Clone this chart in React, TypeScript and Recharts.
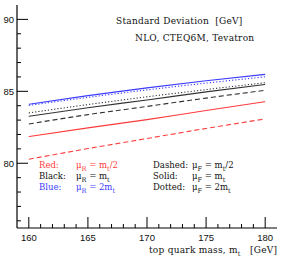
import { LineChart, Line, XAxis, YAxis } from "recharts";

// top quark mass (GeV)
const masses = [160, 165, 170, 175, 180];

// standard deviation [GeV] for each scale choice
const blueSolid = [84.1, 84.7, 85.24, 85.73, 86.18];
const blueDotted = [84.02, 84.58, 85.1, 85.57, 86.01];
const blackDotted = [83.5, 84.08, 84.62, 85.12, 85.6];
const blackSolid = [83.26, 83.86, 84.4, 84.96, 85.48];
const blackDashed = [82.73, 83.38, 83.95, 84.53, 85.07];
const redSolid = [81.85, 82.46, 83.03, 83.67, 84.28];
const redDashed = [80.28, 81.02, 81.72, 82.42, 83.08];

const xTicks = [
  160, 161, 162, 163, 164, 165, 166, 167, 168, 169, 170,
  171, 172, 173, 174, 175, 176, 177, 178, 179, 180,
];
const yTicks = [76, 77, 78, 79, 80, 81, 82, 83, 84, 85, 86, 87, 88, 89, 90];

const RED = "#ff3b3b";
const BLUE = "#3b3bff";
const BLACK = "#333";

const data = masses.map((m, i) => ({
  m,
  blueSolid: blueSolid[i],
  blueDotted: blueDotted[i],
  blackDotted: blackDotted[i],
  blackSolid: blackSolid[i],
  blackDashed: blackDashed[i],
  redSolid: redSolid[i],
  redDashed: redDashed[i],
}));

const tickFont = { fontFamily: "Liberation Sans", fontSize: 9.5, fill: "#111" };
const serif = {
  fontFamily: "DejaVu Serif",
  fontSize: 9,
  letterSpacing: 0.25,
  fill: "#111",
  xmlSpace: "preserve",
} as any;
const legendFont = { ...serif, fontSize: 8.5, letterSpacing: 0 };

const isMajor = (v: number) => v % 5 === 0;

const BottomTick = (props: any) => {
  const { x, y, payload } = props;
  const major = isMajor(payload.value);
  return (
    <g>
      <line x1={x} x2={x} y1={y} y2={y - (major ? 11 : 4)} stroke="#000" strokeWidth={1} />
      {major && (
        <text x={x} y={y + 13} textAnchor="middle" {...tickFont}>
          {payload.value}
        </text>
      )}
    </g>
  );
};

const TopTick = (props: any) => {
  const { x, y, payload } = props;
  const major = isMajor(payload.value);
  return <line x1={x} x2={x} y1={y} y2={y + (major ? 11 : 4)} stroke="#000" strokeWidth={1} />;
};

const LeftTick = (props: any) => {
  const { x, y, payload } = props;
  const major = isMajor(payload.value);
  return (
    <g>
      <line x1={x} x2={x + (major ? 11 : 4)} y1={y} y2={y} stroke="#000" strokeWidth={1} />
      {major && (
        <text x={x - 3} y={y + 3.5} textAnchor="end" {...tickFont}>
          {payload.value}
        </text>
      )}
    </g>
  );
};

const RightTick = (props: any) => {
  const { x, y, payload } = props;
  const major = isMajor(payload.value);
  return <line x1={x} x2={x - (major ? 11 : 4)} y1={y} y2={y} stroke="#000" strokeWidth={1} />;
};

const Sub = ({ children }: { children: string }) => (
  <tspan fontSize={6.5} dy={2.5}>
    {children}
  </tspan>
);

export default function App() {
  return (
    <div style={{ position: "absolute", left: 0, top: 0, width: 282, height: 259 }}>
      <LineChart
        width={282}
        height={259}
        data={data}
        margin={{ top: 5, right: 5, bottom: 0, left: 0 }}
      >
        <XAxis
          dataKey="m"
          type="number"
          domain={[159, 181]}
          ticks={xTicks}
          interval={0}
          height={31}
          tickSize={0}
          tickMargin={0}
          tick={<BottomTick />}
          axisLine={{ stroke: "#000", strokeWidth: 1.2 }}
        />
        <XAxis
          xAxisId="top"
          orientation="top"
          dataKey="m"
          type="number"
          domain={[159, 181]}
          ticks={xTicks}
          interval={0}
          height={0}
          tickSize={0}
          tickMargin={0}
          tick={<TopTick />}
          axisLine={{ stroke: "#000", strokeWidth: 1.2 }}
        />
        <YAxis
          type="number"
          domain={[75.5, 91]}
          ticks={yTicks}
          interval={0}
          width={17}
          tickSize={0}
          tickMargin={0}
          tick={<LeftTick />}
          axisLine={{ stroke: "#000", strokeWidth: 1.2 }}
        />
        <YAxis
          yAxisId="right"
          orientation="right"
          type="number"
          domain={[75.5, 91]}
          ticks={yTicks}
          interval={0}
          width={0}
          tickSize={0}
          tickMargin={0}
          tick={<RightTick />}
          axisLine={{ stroke: "#000", strokeWidth: 1.2 }}
        />
        <Line dataKey="blueSolid" type="monotone" stroke={BLUE} strokeWidth={1.1} dot={false} isAnimationActive={false} />
        <Line dataKey="blueDotted" type="monotone" stroke={BLUE} strokeWidth={1.1} strokeDasharray="1.2 2" dot={false} isAnimationActive={false} />
        <Line dataKey="blackDotted" type="monotone" stroke={BLACK} strokeWidth={1.1} strokeDasharray="1.2 2" dot={false} isAnimationActive={false} />
        <Line dataKey="blackSolid" type="monotone" stroke={BLACK} strokeWidth={1.1} dot={false} isAnimationActive={false} />
        <Line dataKey="blackDashed" type="monotone" stroke={BLACK} strokeWidth={1.1} strokeDasharray="5 3" dot={false} isAnimationActive={false} />
        <Line dataKey="redSolid" type="monotone" stroke={RED} strokeWidth={1.1} dot={false} isAnimationActive={false} />
        <Line dataKey="redDashed" type="monotone" stroke={RED} strokeWidth={1.1} strokeDasharray="5 3" dot={false} isAnimationActive={false} />
      </LineChart>
      <svg
        width={282}
        height={259}
        style={{ position: "absolute", left: 0, top: 0, pointerEvents: "none" }}
      >
        <text x={116} y={24} {...serif}>
          {"Standard Deviation  [GeV]"}
        </text>
        <text x={135} y={41} {...serif}>
          {"NLO, CTEQ6M, Tevatron"}
        </text>

        <text x={39} y={168} {...legendFont} fill={RED}>Red:</text>
        <text x={76} y={168} {...legendFont} fill={RED}>
          μ<Sub>R</Sub>
          <tspan dy={-2.5}>{" = m"}</tspan>
          <Sub>t</Sub>
          <tspan dy={-2.5}>/2</tspan>
        </text>
        <text x={39} y={179} {...legendFont}>Black:</text>
        <text x={76} y={179} {...legendFont}>
          μ<Sub>R</Sub>
          <tspan dy={-2.5}>{" = m"}</tspan>
          <Sub>t</Sub>
        </text>
        <text x={39} y={190} {...legendFont} fill={BLUE}>Blue:</text>
        <text x={76} y={190} {...legendFont} fill={BLUE}>
          μ<Sub>R</Sub>
          <tspan dy={-2.5}>{" = 2m"}</tspan>
          <Sub>t</Sub>
        </text>

        <text x={153} y={168} {...legendFont}>Dashed:</text>
        <text x={192} y={168} {...legendFont}>
          μ<Sub>F</Sub>
          <tspan dy={-2.5}>{" = m"}</tspan>
          <Sub>t</Sub>
          <tspan dy={-2.5}>/2</tspan>
        </text>
        <text x={153} y={179} {...legendFont}>Solid:</text>
        <text x={192} y={179} {...legendFont}>
          μ<Sub>F</Sub>
          <tspan dy={-2.5}>{" = m"}</tspan>
          <Sub>t</Sub>
        </text>
        <text x={153} y={190} {...legendFont}>Dotted:</text>
        <text x={192} y={190} {...legendFont}>
          μ<Sub>F</Sub>
          <tspan dy={-2.5}>{" = 2m"}</tspan>
          <Sub>t</Sub>
        </text>

        <text x={149} y={253} {...serif}>
          {"top quark mass, m"}
          <Sub>t</Sub>
          <tspan dy={-2.5}>{"   [GeV]"}</tspan>
        </text>
      </svg>
    </div>
  );
}
